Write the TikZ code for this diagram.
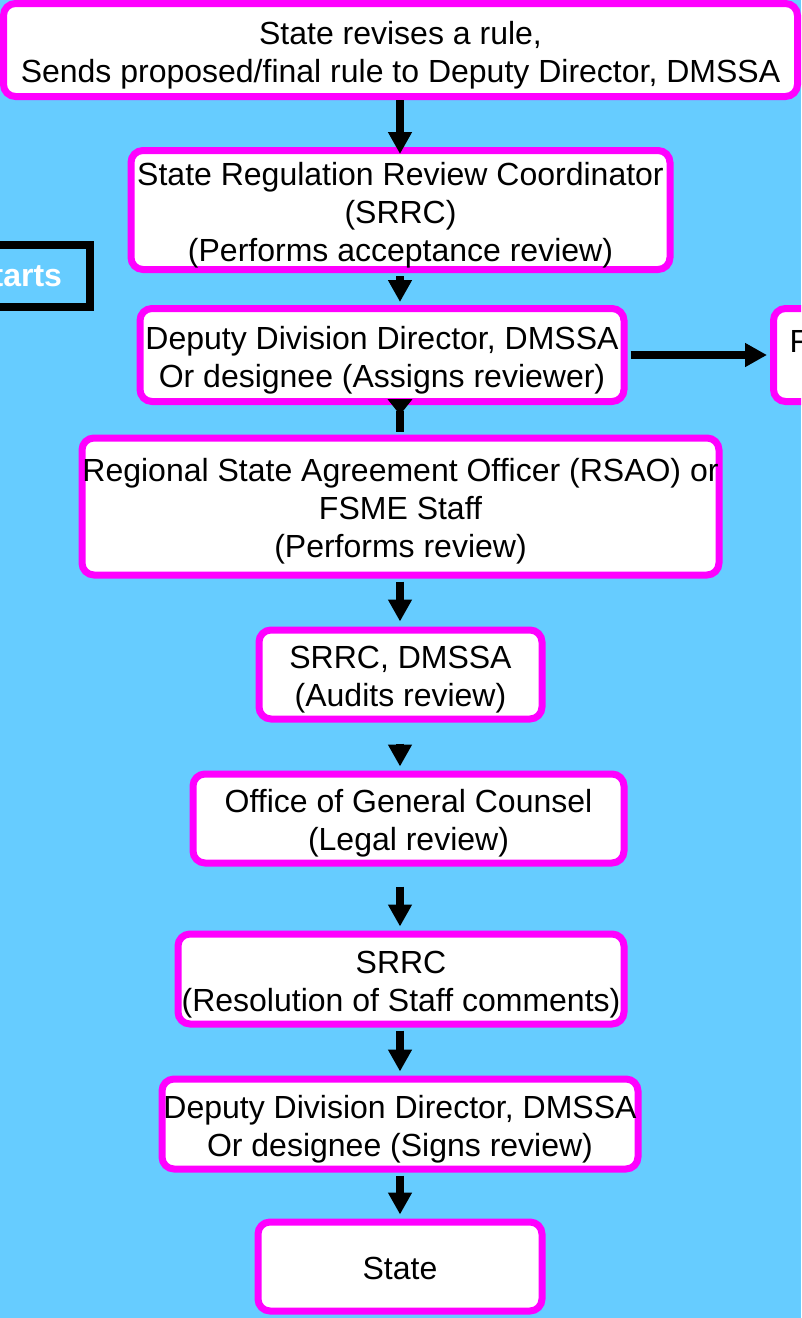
\documentclass[tikz,border=0pt]{standalone}
\usepackage{fontspec}
\setmainfont{Liberation Sans}
\usetikzlibrary{arrows.meta,calc}
\definecolor{bg}{RGB}{102,204,255}
\definecolor{mag}{RGB}{255,0,255}
\newcommand{\toppad}{\rule{0pt}{25pt}}
\begin{document}
\begin{tikzpicture}[x=0.75pt,y=-0.75pt,
  box/.style={draw=mag,line width=5.25pt,fill=white,rounded corners=9pt,inner sep=0pt,align=center,
    font=\fontsize{24}{28.5}\selectfont},
  blackbox/.style={draw=black,line width=6pt,fill=bg,inner sep=0pt,align=right,text=white,
    font=\fontsize{24}{28.5}\selectfont\bfseries},
  conn/.style={line width=6pt,-{Triangle[width=17pt,length=16.5pt]}},
  revconn/.style={line width=6pt,-{Triangle[width=18pt,length=12pt,reversed]}}]
\useasboundingbox (0,0) rectangle (801,1318);
\fill[bg] (0,0) rectangle (801,1318);
\clip (0,0) rectangle (801,1318);

\node[box,minimum width=794*0.75pt,minimum height=93*0.75pt] (top) at (400.5,50)
  {\toppad State revises a rule,\\Sends proposed/final rule to Deputy Director, DMSSA};
\node[box,minimum width=539*0.75pt,minimum height=119*0.75pt] (srrc) at (400.5,210)
  {\toppad State Regulation Review Coordinator\\(SRRC)\\(Performs acceptance review)};
\node[box,minimum width=484*0.75pt,minimum height=93*0.75pt] (dep) at (382,355)
  {\toppad Deputy Division Director, DMSSA\\Or designee (Assigns reviewer)};
\node[box,anchor=west,minimum height=93*0.75pt,text width=200*0.75pt,align=left,inner xsep=12pt] (right) at (770,355)
  {\toppad F\\~};
\node[blackbox,anchor=east,minimum height=62*0.75pt,text width=160*0.75pt,inner xsep=28*0.75pt] (left) at (94,276)
  {tarts};
\node[box,minimum width=637*0.75pt,minimum height=137*0.75pt] (rsao) at (400.5,506.5)
  {\toppad Regional State Agreement Officer (RSAO) or\\FSME Staff\\(Performs review)};
\node[box,minimum width=283*0.75pt,minimum height=89*0.75pt] (aud) at (400.5,674.5)
  {\toppad SRRC, DMSSA\\(Audits review)};
\node[box,minimum width=431*0.75pt,minimum height=89*0.75pt] (ogc) at (408.5,818.5)
  {\toppad Office of General Counsel\\(Legal review)};
\node[box,minimum width=446*0.75pt,minimum height=90*0.75pt] (res) at (401,979)
  {\toppad SRRC\\(Resolution of Staff comments)};
\node[box,minimum width=476*0.75pt,minimum height=90*0.75pt] (signs) at (400,1124)
  {\toppad Deputy Division Director, DMSSA\\Or designee (Signs review)};
\node[box,minimum width=284*0.75pt,minimum height=89*0.75pt] (state) at (400,1266.5)
  {\rule{0pt}{20pt}State};

\draw[conn] (top.south -| 400,0) -- ($(srrc.north -| 400,0)+(0,7)$);
\draw[conn] ($(srrc.south -| 400,0)+(0,3)$) -- ($(dep.north -| 400,0)+(0,-3)$);
\draw[revconn] ($(rsao.north -| 400,0)+(0,-3)$) -- ($(dep.south -| 400,0)+(0,-6)$);
\draw[conn] ($(rsao.south -| 400,0)+(0,3)$) -- ($(aud.north -| 400,0)+(0,-5)$);
\draw[conn] ($(aud.south -| 400,0)+(0,21)$) -- ($(ogc.north -| 400,0)+(0,-4)$);
\draw[conn] ($(ogc.south -| 400,0)+(0,20)$) -- ($(res.north -| 400,0)+(0,-4)$);
\draw[conn] ($(res.south -| 400,0)+(0,3)$) -- ($(signs.north -| 400,0)+(0,-4)$);
\draw[conn] ($(signs.south -| 400,0)+(0,3)$) -- ($(state.north -| 400,0)+(0,-4)$);
\draw[conn] ($(dep.east)+(3,0)$) -- ($(right.west)+(-3,0)$);
\end{tikzpicture}
\end{document}
